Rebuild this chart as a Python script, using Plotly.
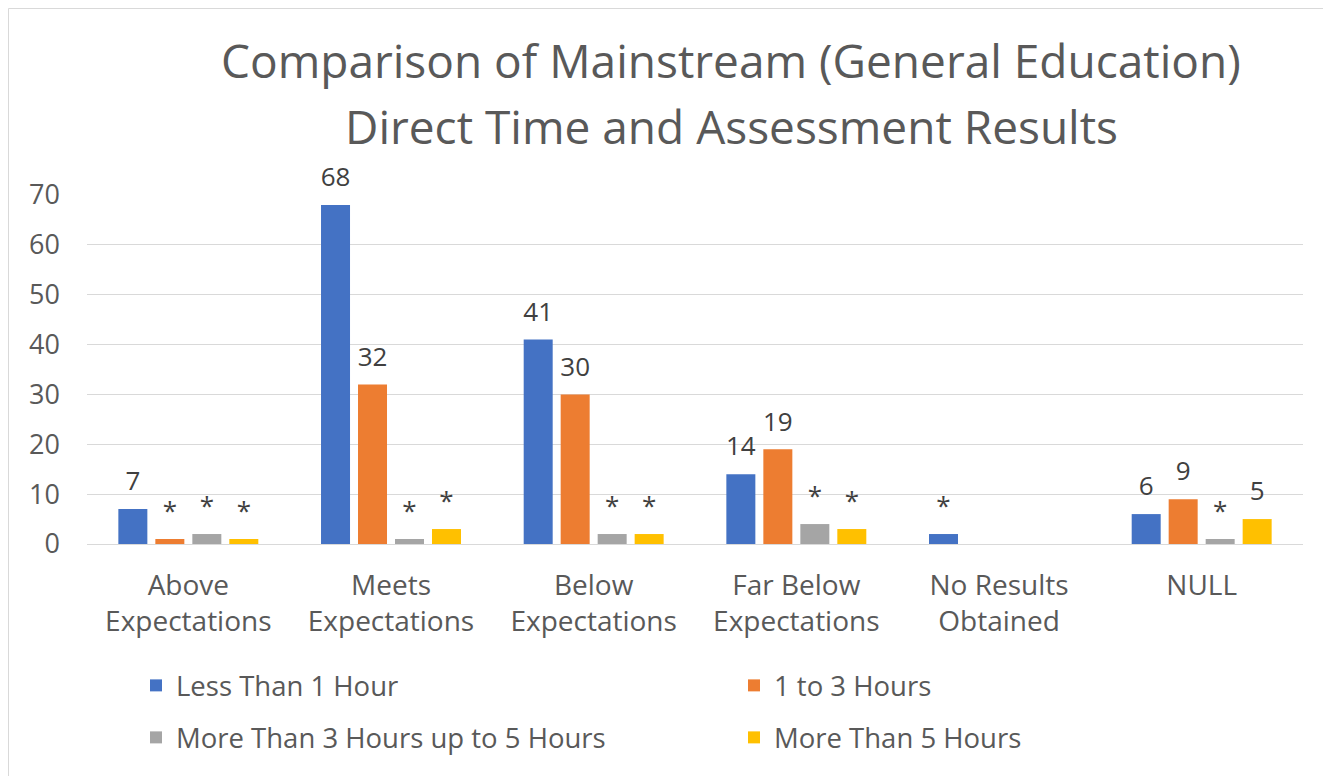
import plotly.graph_objects as go

categories = ["Above<br>Expectations", "Meets<br>Expectations", "Below<br>Expectations",
              "Far Below<br>Expectations", "No Results<br>Obtained", "NULL"]
series_names = ["Less Than 1 Hour", "1 to 3 Hours",
                "More Than 3 Hours up to 5 Hours", "More Than 5 Hours"]
less_1 = [7, 68, 41, 14, 2, 6]
h1_3 = [1, 32, 30, 19, None, 9]
h3_5 = [2, 1, 2, 4, None, 1]
more_5 = [1, 3, 2, 3, None, 5]
labels_less_1 = ["7", "68", "41", "14", "*", "6"]
labels_h1_3 = ["*", "32", "30", "19", "", "9"]
labels_h3_5 = ["*", "*", "*", "*", "", "*"]
labels_more_5 = ["*", "*", "*", "*", "", "5"]
y_ticks = [0, 10, 20, 30, 40, 50, 60, 70]
colors = ["#4472C4", "#ED7D31", "#A5A5A5", "#FFC000"]
legend_ids = ["legend", "legend", "legend2", "legend2"]
title_lines = ["Comparison of Mainstream (General Education)",
               "Direct Time and Assessment Results"]

W, H = 1331, 776
L, R, T, B = 79, 36, 187, 240
pw, ph = W - L - R, H - T - B
BARGAP = 0.27

fig = go.Figure()
all_vals = [less_1, h1_3, h3_5, more_5]
all_labs = [labels_less_1, labels_h1_3, labels_h3_5, labels_more_5]
for name, vals, col, lg in zip(series_names, all_vals, colors, legend_ids):
    fig.add_trace(go.Bar(
        x=categories, y=vals, name=name, marker_color=col, legend=lg,
        marker_line_width=0, hoverinfo="x+y+name",
    ))
# data labels, grouped to sit over their bars
for name, vals, labs in zip(series_names, all_vals, all_labs):
    fig.add_trace(go.Scatter(
        x=categories, y=[v if v is not None else 0 for v in vals], text=labs,
        mode="markers+text", textposition="top center",
        marker=dict(size=18, color="rgba(0,0,0,0)"),
        textfont=dict(size=26, color="#404040"),
        showlegend=False, hoverinfo="skip", cliponaxis=False,
    ))


def px_x(p):
    return (p - L) / pw


def px_y(p):
    return (H - B - p) / ph


legend_common = dict(orientation="h", xanchor="left", yanchor="top",
                     entrywidth=553, entrywidthmode="pixels",
                     font=dict(size=27.5, color="#595959"), traceorder="normal",
                     bgcolor="rgba(0,0,0,0)")

fig.update_layout(
    width=W, height=H,
    font=dict(family="Open Sans", color="#595959"),
    paper_bgcolor="white", plot_bgcolor="white",
    barmode="group", bargap=BARGAP, bargroupgap=0.216,
    scattermode="group", scattergap=BARGAP,
    margin=dict(l=L, r=R, t=T, b=B, autoexpand=False),
    yaxis=dict(range=[0, 70], tickvals=y_ticks, showgrid=True, gridcolor="#D9D9D9", gridwidth=1,
               zeroline=False, tickfont=dict(size=27, color="#595959"), ticks="",
               showline=False, ticklabelstandoff=26),
    xaxis=dict(showline=True, linecolor="#D9D9D9", linewidth=1,
               tickfont=dict(size=28, color="#595959"), ticks="", ticklabelstandoff=16),
    legend=dict(x=px_x(128), y=px_y(653), **legend_common),
    legend2=dict(x=px_x(128), y=px_y(705), **legend_common),
    annotations=[
        dict(text=title_lines[0], xref="paper", yref="paper", x=px_x(723), y=px_y(52),
             xanchor="center", yanchor="middle", showarrow=False,
             font=dict(size=46, color="#595959")),
        dict(text=title_lines[1], xref="paper", yref="paper", x=px_x(723), y=px_y(118),
             xanchor="center", yanchor="middle", showarrow=False,
             font=dict(size=46, color="#595959")),
    ],
    shapes=[dict(type="rect", xref="paper", yref="paper",
                 x0=px_x(0.5), x1=px_x(W - 0.5), y0=px_y(H - 0.5), y1=px_y(0.5),
                 line=dict(color="#D9D9D9", width=1))],
)

fig.write_html("out.html")
